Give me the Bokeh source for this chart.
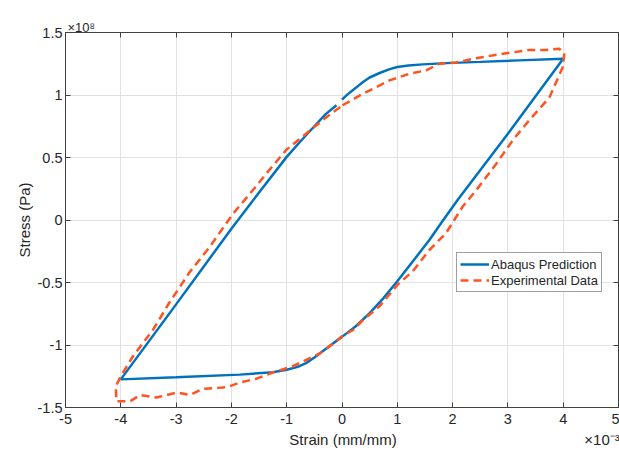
from bokeh.plotting import figure
from bokeh.models import Range1d, LinearAxis, FixedTicker, Legend, LegendItem, Title
from bokeh.embed import file_html
from bokeh.resources import INLINE

# ---- data (strain in 1e-3 mm/mm, stress in 1e8 Pa) ----
abaqus_strain = [0.0, 0.1, 0.2, 0.3, 0.38, 0.5, 0.68, 0.85, 1.0, 1.2, 1.46, 1.88, 2.5, 3.2, 4.0,
                 3.0, 2.09, 1.8, 1.58, 1.3, 1.0, 0.75, 0.5, 0.25, 0.0, -0.2, -0.35, -0.5,
                 -0.65, -0.8, -1.0, -1.25, -1.85, -3.0, -4.0,
                 -3.0, -2.0, -1.5, -1.0, -0.75, -0.5, -0.3, -0.1]
abaqus_stress = [0.963, 1.005, 1.04, 1.075, 1.104, 1.14, 1.176, 1.205, 1.224, 1.236, 1.245,
                 1.255, 1.265, 1.277, 1.29,
                 0.69, 0.16, -0.02, -0.16, -0.32, -0.49, -0.625, -0.745, -0.85, -0.935, -1.0,
                 -1.05, -1.1, -1.145, -1.175, -1.198, -1.218, -1.237, -1.258, -1.275,
                 -0.675, -0.07, 0.22, 0.505, 0.63, 0.75, 0.845, 0.918]

exp_strain = [0.01, 0.38, 0.86, 1.22, 1.52, 1.76, 2.06, 2.37, 2.91, 3.39, 3.69, 3.93, 4.02,
              3.99, 3.75, 3.39, 3.09, 2.79, 2.43, 2.18, 1.88, 1.58, 1.28, 1.0, 0.68, 0.38,
              0.2, 0.0, -0.1, -0.41, -0.89, -1.25, -1.55, -1.85, -2.03, -2.15, -2.51, -2.75,
              -2.98, -3.35, -3.65, -3.83, -4.08, -4.09, -4.0, -3.78, -3.42, -3.12, -2.76,
              -2.40, -1.97, -1.61, -1.37, -1.01, -0.65, -0.29, 0.01]
exp_stress = [0.918, 1.01, 1.117, 1.17, 1.197, 1.25, 1.26, 1.29, 1.33, 1.36, 1.36, 1.37, 1.33,
              1.22, 0.98, 0.80, 0.64, 0.45, 0.24, 0.106, -0.106, -0.24, -0.41, -0.52, -0.69,
              -0.80, -0.88, -0.93, -0.97, -1.07, -1.17, -1.22, -1.27, -1.30, -1.33, -1.34,
              -1.35, -1.40, -1.38, -1.42, -1.40, -1.45, -1.45, -1.33, -1.25, -1.09, -0.88,
              -0.66, -0.42, -0.22, 0.05, 0.24, 0.37, 0.56, 0.69, 0.82, 0.918]

x_ticks = [-5, -4, -3, -2, -1, 0, 1, 2, 3, 4, 5]
x_tick_labels = ["-5", "-4", "-3", "-2", "-1", "0", "1", "2", "3", "4", "5"]
y_ticks = [-1.5, -1, -0.5, 0, 0.5, 1, 1.5]
y_tick_labels = ["-1.5", "-1", "-0.5", "0", "0.5", "1", "1.5"]
x_label = "Strain (mm/mm)"
y_label = "Stress (Pa)"
x_exponent = "\u00d710\u207b\u00b3"
y_exponent = "\u00d710\u2078"

FONT = "Liberation Sans"
AX = "#404040"
TXT = "#262626"
BLUE = "#0072BD"
RED = "#FF5320"

p = figure(width=619, height=452, output_backend="svg", toolbar_location=None,
           x_range=Range1d(-5, 5), y_range=Range1d(-1.5, 1.5),
           min_border_left=65, min_border_right=1, min_border_top=32, min_border_bottom=45)
p.background_fill_color = "white"
p.border_fill_color = "white"
p.outline_line_color = AX

def style_axis(ax, ticks, labels, show):
    ax.ticker = FixedTicker(ticks=ticks)
    ax.major_label_overrides = {t: l for t, l in zip(ticks, labels)}
    ax.major_tick_in = 5
    ax.major_tick_out = 0
    ax.minor_tick_in = 0
    ax.minor_tick_out = 0
    ax.axis_line_color = AX
    ax.major_tick_line_color = AX
    ax.major_label_text_font = FONT
    ax.major_label_text_color = TXT
    ax.axis_label_text_font = FONT
    ax.axis_label_text_font_style = "normal"
    ax.axis_label_text_color = TXT
    ax.axis_label_text_font_size = "15px"
    if show:
        ax.major_label_text_font_size = "14.5px"
    else:
        ax.major_label_text_font_size = "0px"
        ax.major_label_standoff = 0

xa = p.xaxis[0]
ya = p.yaxis[0]
style_axis(xa, x_ticks, x_tick_labels, True)
style_axis(ya, y_ticks, y_tick_labels, True)
# x label centred under the axis, with the x10^-3 multiplier at the right end of the same row
NB = "\u00a0"
xa.axis_label = NB * 54 + x_label + NB * 45 + x_exponent
xa.major_label_standoff = 6
xa.axis_label_standoff = 4
ya.axis_label = y_label
ya.major_label_standoff = 3
ya.axis_label_standoff = 2

top = LinearAxis()
right = LinearAxis()
style_axis(top, x_ticks, ["" for _ in x_ticks], False)
style_axis(right, y_ticks, ["" for _ in y_ticks], False)
p.add_layout(top, "above")
p.add_layout(right, "right")

# x10^8 multiplier above the top-left corner
p.add_layout(Title(text=y_exponent, align="left", offset=2, standoff=-4,
                   text_font=FONT, text_font_size="13px", text_font_style="normal",
                   text_color=TXT), "above")

p.xgrid.ticker = FixedTicker(ticks=x_ticks)
p.ygrid.ticker = FixedTicker(ticks=y_ticks)
p.xgrid.grid_line_color = "#e2e2e2"
p.ygrid.grid_line_color = "#e2e2e2"

r1 = p.line(abaqus_strain, abaqus_stress, line_color=BLUE, line_width=2.5)
r2 = p.line(exp_strain, exp_stress, line_color=RED, line_width=2.5, line_dash="8 5")

legend = Legend(items=[LegendItem(label="Abaqus Prediction", renderers=[r1]),
                       LegendItem(label="Experimental Data", renderers=[r2])],
                location=(391, 115))
legend.label_text_font = FONT
legend.label_text_font_size = "13px"
legend.label_text_color = TXT
legend.border_line_color = AX
legend.border_line_width = 1
legend.background_fill_color = "white"
legend.background_fill_alpha = 1
legend.glyph_width = 29
legend.glyph_height = 16
legend.label_height = 16
legend.spacing = 0
legend.padding = 3
legend.margin = 0
legend.label_standoff = 2
p.add_layout(legend)

open("out.html", "w").write(file_html(p, INLINE))
